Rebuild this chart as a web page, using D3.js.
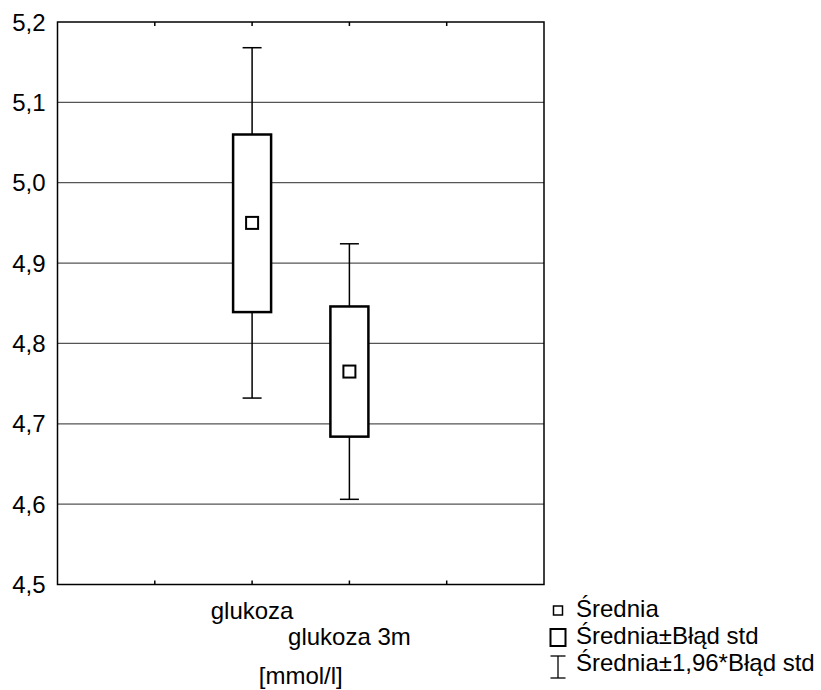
<!DOCTYPE html>
<html>
<head>
<meta charset="utf-8">
<script src="https://cdn.jsdelivr.net/npm/d3@7"></script>
<style>
  body { margin: 0; background: #fff; }
  text { font-family: "Liberation Sans", Arial, sans-serif; fill: #000; }
</style>
</head>
<body>
<div id="chart"></div>
<script>
// values
var categories = ["glukoza", "glukoza 3m"];
var means = [4.950, 4.765];
var seLow = [4.839, 4.684];
var seHigh = [5.060, 4.846];
var ciLow = [4.732, 4.606];
var ciHigh = [5.168, 4.924];
var yTicks = [4.5, 4.6, 4.7, 4.8, 4.9, 5.0, 5.1, 5.2];
var xTicks = [1, 2, 3, 4];
var legendLabels = ["Średnia", "Średnia±Błąd std", "Średnia±1,96*Błąd std"];
var axisTitle = "[mmol/l]";

var width = 821, height = 690;
var margin = {top: 22, right: 277, bottom: 105.5, left: 57.5};
var fs = "24px";

var svg = d3.select("#chart").append("svg")
    .attr("width", width)
    .attr("height", height);

var x = d3.scaleLinear().domain([0, 5]).range([margin.left, width - margin.right]);
var y = d3.scaleLinear().domain([4.5, 5.2]).range([height - margin.bottom, margin.top]);

var fmt = function(d) { return d3.format(".1f")(d).replace(".", ","); };

// gridlines
svg.append("g").selectAll("line")
    .data(yTicks.slice(1, -1))
    .enter().append("line")
    .attr("x1", x(0)).attr("x2", x(5))
    .attr("y1", function(d) { return y(d); })
    .attr("y2", function(d) { return y(d); })
    .attr("stroke", "#555")
    .attr("stroke-width", 1.3);

// y tick labels
svg.append("g").selectAll("text")
    .data(yTicks)
    .enter().append("text")
    .attr("x", x(0) - 12)
    .attr("y", function(d) { return y(d); })
    .attr("dy", "0.36em")
    .attr("text-anchor", "end")
    .style("font-size", fs)
    .text(fmt);

// inner ticks top and bottom
var tk = svg.append("g");
xTicks.forEach(function(t) {
    tk.append("line").attr("x1", x(t)).attr("x2", x(t))
        .attr("y1", y(4.5)).attr("y2", y(4.5) - 4)
        .attr("stroke", "#000").attr("stroke-width", 1.5);
    tk.append("line").attr("x1", x(t)).attr("x2", x(t))
        .attr("y1", y(5.2)).attr("y2", y(5.2) + 4)
        .attr("stroke", "#000").attr("stroke-width", 1.5);
});

// frame
svg.append("rect")
    .attr("x", x(0)).attr("y", y(5.2))
    .attr("width", x(5) - x(0))
    .attr("height", y(4.5) - y(5.2))
    .attr("fill", "none")
    .attr("stroke", "#000")
    .attr("stroke-width", 1.5);

var boxW = 38, capW = 19, meanW = 12;

categories.forEach(function(c, i) {
    var cx = x(i + 2);
    var g = svg.append("g");
    // whiskers
    g.append("line").attr("x1", cx).attr("x2", cx)
        .attr("y1", y(ciHigh[i])).attr("y2", y(ciLow[i]))
        .attr("stroke", "#000").attr("stroke-width", 1.5);
    [ciHigh[i], ciLow[i]].forEach(function(v) {
        g.append("line").attr("x1", cx - capW / 2).attr("x2", cx + capW / 2)
            .attr("y1", y(v)).attr("y2", y(v))
            .attr("stroke", "#000").attr("stroke-width", 1.5);
    });
    // box
    g.append("rect")
        .attr("x", cx - boxW / 2).attr("y", y(seHigh[i]))
        .attr("width", boxW).attr("height", y(seLow[i]) - y(seHigh[i]))
        .attr("fill", "#fff").attr("stroke", "#000").attr("stroke-width", 2.5);
    // mean
    g.append("rect")
        .attr("x", cx - meanW / 2).attr("y", y(means[i]) - meanW / 2)
        .attr("width", meanW).attr("height", meanW)
        .attr("fill", "#fff").attr("stroke", "#000").attr("stroke-width", 2);
});

// category labels
svg.append("text").attr("x", x(2)).attr("y", 619)
    .attr("text-anchor", "middle").style("font-size", fs).text(categories[0]);
svg.append("text").attr("x", x(3)).attr("y", 645)
    .attr("text-anchor", "middle").style("font-size", fs).text(categories[1]);
svg.append("text").attr("x", (x(2) + x(3)) / 2).attr("y", 684)
    .attr("text-anchor", "middle").style("font-size", fs).text(axisTitle);

// legend
var lg = svg.append("g");
var lx = 558, rows = [617, 644, 671];
lg.append("rect").attr("x", lx - 4.5).attr("y", rows[0] - 11).attr("width", 9).attr("height", 9)
    .attr("fill", "#fff").attr("stroke", "#000").attr("stroke-width", 1.5);
lg.append("rect").attr("x", lx - 7.5).attr("y", rows[1] - 15).attr("width", 15).attr("height", 17)
    .attr("fill", "#fff").attr("stroke", "#000").attr("stroke-width", 2);
lg.append("line").attr("x1", lx).attr("x2", lx).attr("y1", rows[2] - 15).attr("y2", rows[2] + 7)
    .attr("stroke", "#000").attr("stroke-width", 1.3);
[rows[2] - 15, rows[2] + 7].forEach(function(v) {
    lg.append("line").attr("x1", lx - 7.5).attr("x2", lx + 7.5).attr("y1", v).attr("y2", v)
        .attr("stroke", "#000").attr("stroke-width", 1.3);
});
legendLabels.forEach(function(t, i) {
    lg.append("text").attr("x", 576).attr("y", rows[i])
        .style("font-size", fs).text(t);
});
</script>
</body>
</html>
